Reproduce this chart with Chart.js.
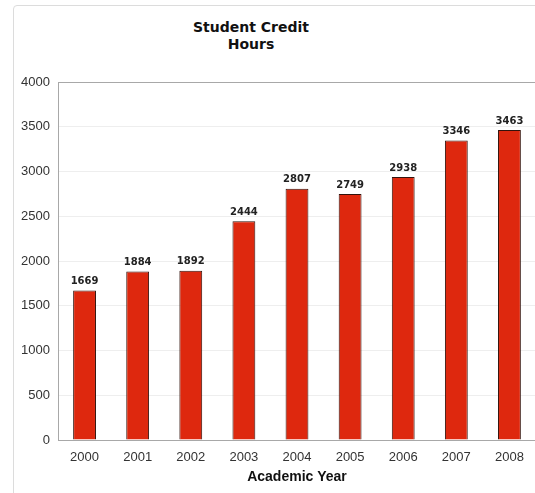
<!DOCTYPE html>
<html>
<head>
<meta charset="utf-8">
<script src="https://cdn.jsdelivr.net/npm/chart.js@4"></script>
<style>
    html, body { margin: 0; padding: 0; background: #fff; overflow: hidden; }
    #wrap { position: relative; width: 535px; height: 493px; overflow: hidden; }
    #frame { position: absolute; left: 13px; top: 5px; width: 600px; height: 600px;
             border: 1px solid #dcdcdc; border-radius: 4px; }
    #title { position: absolute; left: 151px; width: 200px; top: 19px; text-align: center;
             font: bold 14px/17px "DejaVu Sans", Verdana, sans-serif; color: #111; }
    canvas { position: absolute; left: 0; top: 0; }
</style>
</head>
<body>
<div id="wrap">
    <div id="frame"></div>
    <div id="title">Student Credit<br>Hours</div>
    <canvas id="creditChart" width="537" height="493"></canvas>
</div>
<script>
const years = ["2000", "2001", "2002", "2003", "2004", "2005", "2006", "2007", "2008"];
const creditHours = [1669, 1884, 1892, 2444, 2807, 2749, 2938, 3346, 3463];
const yMax = 4000;
const yStep = 500;

// valeurs au-dessus des barres
const barValues = {
    id: "barValues",
    afterDatasetsDraw(chart) {
        const ctx = chart.ctx;
        const meta = chart.getDatasetMeta(0);
        ctx.save();
        ctx.font = "bold 10px 'DejaVu Sans', Verdana, sans-serif";
        ctx.fillStyle = "#222";
        ctx.textAlign = "center";
        ctx.textBaseline = "bottom";
        meta.data.forEach((bar, i) => {
            ctx.fillText(String(creditHours[i]), bar.x, bar.y - 4);
        });
        ctx.restore();
    }
};

const ctx = document.getElementById("creditChart").getContext("2d");
new Chart(ctx, {
    type: "bar",
    data: {
        labels: years,
        datasets: [{
            label: "Student Credit Hours",
            data: creditHours,
            backgroundColor: "rgb(222, 40, 14)",
            borderColor: "rgb(50, 18, 12)",
            borderWidth: 1,
            borderSkipped: "bottom",
            barPercentage: 1,
            categoryPercentage: 0.43,
        }],
    },
    options: {
        responsive: false,
        animation: false,
        devicePixelRatio: 1,
        layout: {
            padding: { top: 82, right: 1, bottom: 0, left: 0 },
        },
        plugins: {
            legend: { display: false },
            tooltip: { enabled: false },
        },
        scales: {
            x: {
                afterFit(scale) { scale.height = 53; },
                grid: { display: false },
                border: { display: true, color: "#a8a8a8" },
                ticks: {
                    padding: 2,
                    color: "#333",
                    font: { size: 13, family: "'Liberation Sans', Arial, sans-serif" },
                },
                title: {
                    display: true,
                    text: "Academic Year",
                    color: "#111",
                    padding: { top: 3, bottom: 7 },
                    font: { size: 14, weight: "bold", family: "'Liberation Sans', Arial, sans-serif" },
                },
            },
            y: {
                min: 0,
                max: yMax,
                afterFit(scale) { scale.width = 58; },
                border: { display: true, color: "#a8a8a8" },
                grid: {
                    drawTicks: false,
                    color: (c) => c.tick && c.tick.value === yMax ? "#a8a8a8" : "#eeeeee",
                },
                ticks: {
                    stepSize: yStep,
                    padding: 8,
                    color: "#333",
                    callback: (v) => String(v),
                    font: { size: 13, family: "'Liberation Sans', Arial, sans-serif" },
                },
            },
        },
    },
    plugins: [barValues],
});
</script>
</body>
</html>
